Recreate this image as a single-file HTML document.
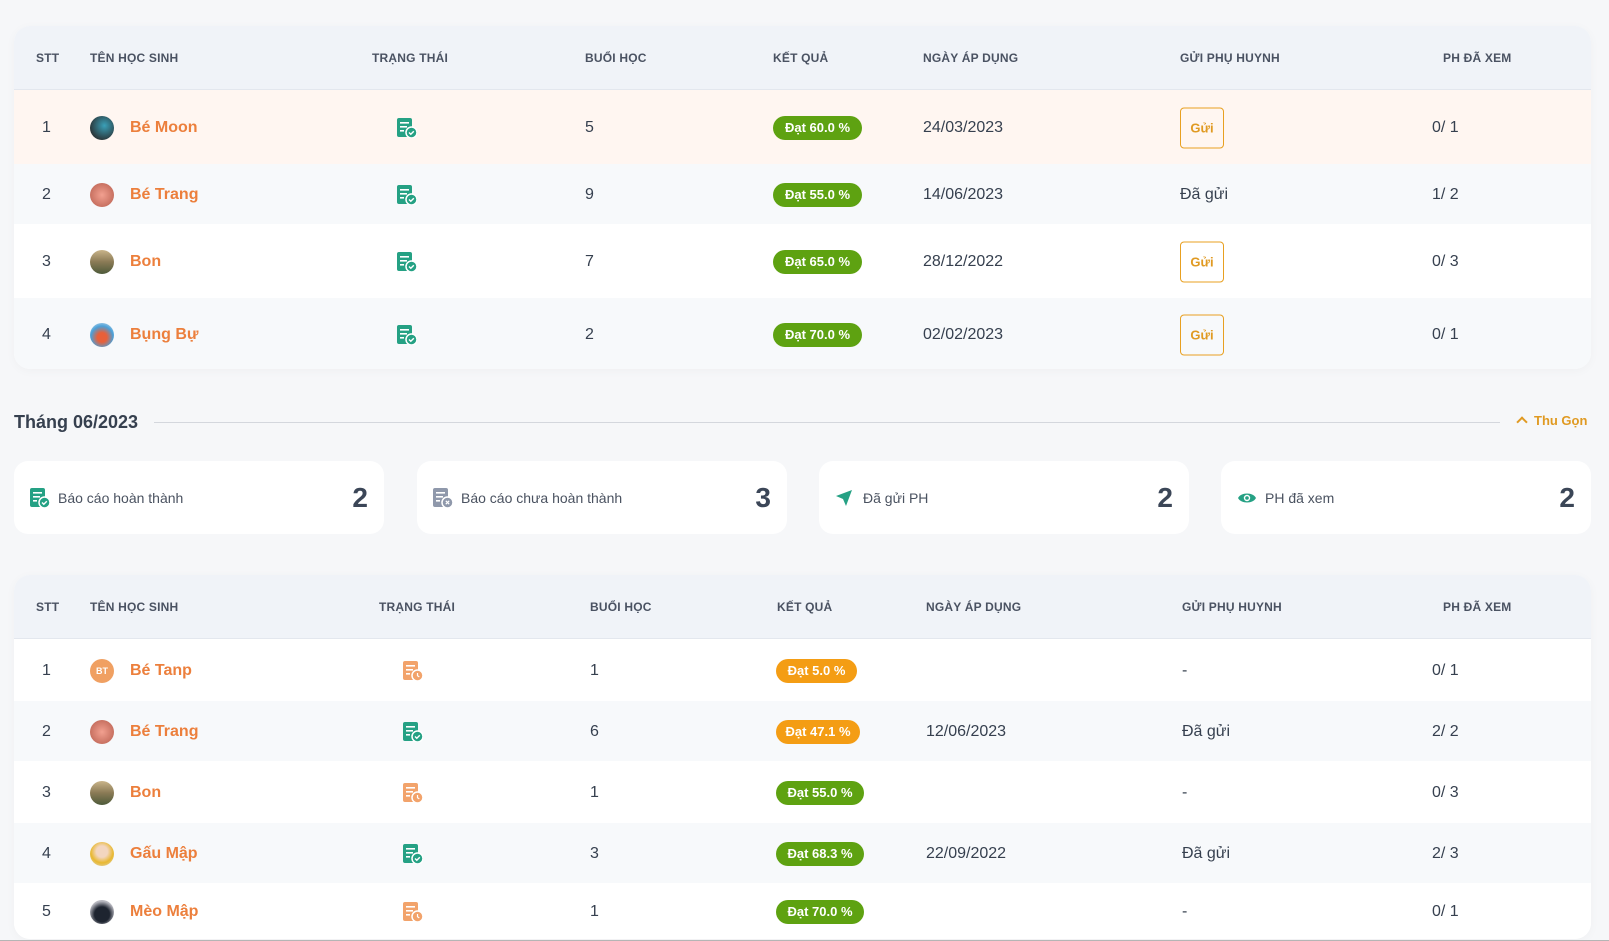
<!DOCTYPE html>
<html><head><meta charset="utf-8">
<style>
*{box-sizing:border-box;margin:0;padding:0}
body{width:1609px;height:941px;overflow:hidden;background:#f6f7f9;font-family:"Liberation Sans",sans-serif;color:#36404f;position:relative}
.card{position:absolute;left:14px;width:1577px;background:#fff;border-radius:16px;overflow:hidden;box-shadow:0 2px 10px rgba(0,0,0,0.03)}
.hd{position:relative;height:64px;background:#f0f3f8;border-bottom:1px solid #e3e7ee}
.hd span{position:absolute;top:50%;transform:translateY(-50%);font-size:12px;font-weight:bold;color:#4a5262;letter-spacing:0.2px}
.r{position:relative}
.r>*{position:absolute;top:calc(50% + 1px);transform:translateY(-50%)}
.r .t{font-size:16px;color:#36404f}
.nm{font-size:16px;font-weight:600;color:#ec7f3c}
.av{width:24px;height:24px;border-radius:50%}
.bd{height:24px;border-radius:12px;color:#fff;font-size:13px;font-weight:bold;line-height:24px;text-align:center}
.g{background:#5ea211}.o{background:#f49d14}
.btn{width:44px;height:41px;border:1px solid #e8a021;border-radius:4px;color:#e09a22;font-size:13px;font-weight:bold;line-height:39px;text-align:center}
.sc{position:absolute;top:461px;height:73px;width:370px;background:#fff;border-radius:14px}
.sc .l{position:absolute;left:44px;top:50%;transform:translateY(-50%);font-size:14px;color:#4a5260}
.sc .n{position:absolute;right:16px;top:50%;transform:translateY(-50%);font-size:28px;font-weight:bold;color:#3b4657}
.sc svg{position:absolute;left:16px;top:50%;transform:translateY(-50%)}
</style></head><body>

<div class="card" style="top:26px;height:343px">
 <div class="hd">
  <span style="left:22px">STT</span><span style="left:76px">TÊN HỌC SINH</span><span style="left:358px">TRẠNG THÁI</span><span style="left:571px">BUỔI HỌC</span><span style="left:759px">KẾT QUẢ</span><span style="left:909px">NGÀY ÁP DỤNG</span><span style="left:1166px">GỬI PHỤ HUYNH</span><span style="left:1429px">PH ĐÃ XEM</span>
 </div>
 <div class="r" style="height:74px;background:#fff6f1">
  <span class="t" style="left:28px">1</span><div class="av" style="left:76px;background:radial-gradient(circle at 60% 40%,#3aa0b8,#2b3a3e 70%)"></div><span class="nm" style="left:116px">Bé Moon</span>
  <svg style="left:383px" width="20" height="20" viewBox="0 0 20 20"><rect x="0" y="0" width="15" height="19" rx="2" fill="#25a184"/><rect x="3" y="4" width="9" height="1.6" fill="#fff"/><rect x="3" y="8" width="7" height="1.6" fill="#fff"/><rect x="3" y="12" width="4" height="1.6" fill="#fff"/><circle cx="14.5" cy="14.5" r="5.5" fill="#25a184" stroke="#fff" stroke-width="1.5"/><path d="M12 14.5l1.8 1.8 3-3" stroke="#fff" stroke-width="1.4" fill="none"/></svg>
  <span class="t" style="left:571px">5</span><div class="bd g" style="left:759px;width:89px">Đạt 60.0 %</div><span class="t" style="left:909px">24/03/2023</span><div class="btn" style="left:1166px">Gửi</div><span class="t" style="left:1418px">0/ 1</span>
 </div>
 <div class="r" style="height:60px;background:#f7f9fb">
  <span class="t" style="left:28px">2</span><div class="av" style="left:76px;background:radial-gradient(circle at 50% 50%,#f2a090,#c26a5a 80%)"></div><span class="nm" style="left:116px">Bé Trang</span>
  <svg style="left:383px" width="20" height="20" viewBox="0 0 20 20"><rect x="0" y="0" width="15" height="19" rx="2" fill="#25a184"/><rect x="3" y="4" width="9" height="1.6" fill="#fff"/><rect x="3" y="8" width="7" height="1.6" fill="#fff"/><rect x="3" y="12" width="4" height="1.6" fill="#fff"/><circle cx="14.5" cy="14.5" r="5.5" fill="#25a184" stroke="#fff" stroke-width="1.5"/><path d="M12 14.5l1.8 1.8 3-3" stroke="#fff" stroke-width="1.4" fill="none"/></svg>
  <span class="t" style="left:571px">9</span><div class="bd g" style="left:759px;width:89px">Đạt 55.0 %</div><span class="t" style="left:909px">14/06/2023</span><span class="t" style="left:1166px">Đã gửi</span><span class="t" style="left:1418px">1/ 2</span>
 </div>
 <div class="r" style="height:74px;background:#fff">
  <span class="t" style="left:28px">3</span><div class="av" style="left:76px;background:linear-gradient(#c9b48a,#8a7a55 50%,#4d5a3a)"></div><span class="nm" style="left:116px">Bon</span>
  <svg style="left:383px" width="20" height="20" viewBox="0 0 20 20"><rect x="0" y="0" width="15" height="19" rx="2" fill="#25a184"/><rect x="3" y="4" width="9" height="1.6" fill="#fff"/><rect x="3" y="8" width="7" height="1.6" fill="#fff"/><rect x="3" y="12" width="4" height="1.6" fill="#fff"/><circle cx="14.5" cy="14.5" r="5.5" fill="#25a184" stroke="#fff" stroke-width="1.5"/><path d="M12 14.5l1.8 1.8 3-3" stroke="#fff" stroke-width="1.4" fill="none"/></svg>
  <span class="t" style="left:571px">7</span><div class="bd g" style="left:759px;width:89px">Đạt 65.0 %</div><span class="t" style="left:909px">28/12/2022</span><div class="btn" style="left:1166px">Gửi</div><span class="t" style="left:1418px">0/ 3</span>
 </div>
 <div class="r" style="height:71px;background:#f7f9fb">
  <span class="t" style="left:28px">4</span><div class="av" style="left:76px;background:radial-gradient(circle at 50% 60%,#e8603a 25%,#4aa0d8 60%,#dfe8f0)"></div><span class="nm" style="left:116px">Bụng Bự</span>
  <svg style="left:383px" width="20" height="20" viewBox="0 0 20 20"><rect x="0" y="0" width="15" height="19" rx="2" fill="#25a184"/><rect x="3" y="4" width="9" height="1.6" fill="#fff"/><rect x="3" y="8" width="7" height="1.6" fill="#fff"/><rect x="3" y="12" width="4" height="1.6" fill="#fff"/><circle cx="14.5" cy="14.5" r="5.5" fill="#25a184" stroke="#fff" stroke-width="1.5"/><path d="M12 14.5l1.8 1.8 3-3" stroke="#fff" stroke-width="1.4" fill="none"/></svg>
  <span class="t" style="left:571px">2</span><div class="bd g" style="left:759px;width:89px">Đạt 70.0 %</div><span class="t" style="left:909px">02/02/2023</span><div class="btn" style="left:1166px">Gửi</div><span class="t" style="left:1418px">0/ 1</span>
 </div>
</div>

<div style="position:absolute;left:14px;top:412px;font-size:18px;font-weight:bold;color:#36404f">Tháng 06/2023</div>
<div style="position:absolute;left:154px;top:422px;width:1346px;height:1px;background:#d4d7dd"></div>
<div style="position:absolute;left:1516px;top:413px;font-size:13px;font-weight:bold;color:#e09a22"><span style="display:inline-block;width:8px;height:8px;border-left:2px solid #e09a22;border-top:2px solid #e09a22;transform:rotate(45deg);margin:0 8px 0 2px;position:relative;top:1px"></span>Thu Gọn</div>

<div class="sc" style="left:14px"><svg width="20" height="20" viewBox="0 0 20 20"><rect x="0" y="0" width="15" height="19" rx="2" fill="#25a184"/><rect x="3" y="4" width="9" height="1.6" fill="#fff"/><rect x="3" y="8" width="7" height="1.6" fill="#fff"/><rect x="3" y="12" width="4" height="1.6" fill="#fff"/><circle cx="14.5" cy="14.5" r="5.5" fill="#25a184" stroke="#fff" stroke-width="1.5"/><path d="M12 14.5l1.8 1.8 3-3" stroke="#fff" stroke-width="1.4" fill="none"/></svg><span class="l">Báo cáo hoàn thành</span><span class="n">2</span></div>
<div class="sc" style="left:417px"><svg width="20" height="20" viewBox="0 0 20 20"><rect x="0" y="0" width="15" height="19" rx="2" fill="#8f98ab"/><rect x="3" y="4" width="9" height="1.6" fill="#fff"/><rect x="3" y="8" width="7" height="1.6" fill="#fff"/><rect x="3" y="12" width="4" height="1.6" fill="#fff"/><circle cx="14.5" cy="14.5" r="5.5" fill="#8f98ab" stroke="#fff" stroke-width="1.5"/><path d="M12.8 12.8l3.4 3.4M16.2 12.8l-3.4 3.4" stroke="#fff" stroke-width="1.2"/></svg><span class="l">Báo cáo chưa hoàn thành</span><span class="n">3</span></div>
<div class="sc" style="left:819px"><svg width="18" height="18" viewBox="0 0 18 18"><path d="M17 1L1 7l7 3 3 7z" fill="#25a184"/></svg><span class="l">Đã gửi PH</span><span class="n">2</span></div>
<div class="sc" style="left:1221px"><svg width="20" height="14" viewBox="0 0 20 14"><path d="M1 7C4 1 16 1 19 7C16 13 4 13 1 7z" fill="#25a184"/><circle cx="10" cy="7" r="3.2" fill="#fff"/><circle cx="10" cy="7" r="1.8" fill="#25a184"/></svg><span class="l">PH đã xem</span><span class="n">2</span></div>

<div class="card" style="top:575px;height:364px">
 <div class="hd">
  <span style="left:22px">STT</span><span style="left:76px">TÊN HỌC SINH</span><span style="left:365px">TRẠNG THÁI</span><span style="left:576px">BUỔI HỌC</span><span style="left:763px">KẾT QUẢ</span><span style="left:912px">NGÀY ÁP DỤNG</span><span style="left:1168px">GỬI PHỤ HUYNH</span><span style="left:1429px">PH ĐÃ XEM</span>
 </div>
 <div class="r" style="height:62px;background:#fff">
  <span class="t" style="left:28px">1</span><div class="av" style="left:76px;background:#f0a062;color:#fff;font-size:9px;font-weight:bold;text-align:center;line-height:24px">BT</div><span class="nm" style="left:116px">Bé Tanp</span>
  <svg style="left:389px" width="20" height="20" viewBox="0 0 20 20"><rect x="0" y="0" width="15" height="19" rx="2" fill="#f2a36b"/><rect x="3" y="4" width="9" height="1.6" fill="#fff"/><rect x="3" y="8" width="7" height="1.6" fill="#fff"/><rect x="3" y="12" width="4" height="1.6" fill="#fff"/><circle cx="14.5" cy="14.5" r="5.5" fill="#f2a36b" stroke="#fff" stroke-width="1.5"/><path d="M14.5 12v2.7l1.8 1.2" stroke="#fff" stroke-width="1.2" fill="none"/></svg>
  <span class="t" style="left:576px">1</span><div class="bd o" style="left:762px;width:81px">Đạt 5.0 %</div><span class="t" style="left:1168px">-</span><span class="t" style="left:1418px">0/ 1</span>
 </div>
 <div class="r" style="height:60px;background:#f7f9fb">
  <span class="t" style="left:28px">2</span><div class="av" style="left:76px;background:radial-gradient(circle at 50% 50%,#f2a090,#c26a5a 80%)"></div><span class="nm" style="left:116px">Bé Trang</span>
  <svg style="left:389px" width="20" height="20" viewBox="0 0 20 20"><rect x="0" y="0" width="15" height="19" rx="2" fill="#25a184"/><rect x="3" y="4" width="9" height="1.6" fill="#fff"/><rect x="3" y="8" width="7" height="1.6" fill="#fff"/><rect x="3" y="12" width="4" height="1.6" fill="#fff"/><circle cx="14.5" cy="14.5" r="5.5" fill="#25a184" stroke="#fff" stroke-width="1.5"/><path d="M12 14.5l1.8 1.8 3-3" stroke="#fff" stroke-width="1.4" fill="none"/></svg>
  <span class="t" style="left:576px">6</span><div class="bd o" style="left:762px;width:84px">Đạt 47.1 %</div><span class="t" style="left:912px">12/06/2023</span><span class="t" style="left:1168px">Đã gửi</span><span class="t" style="left:1418px">2/ 2</span>
 </div>
 <div class="r" style="height:62px;background:#fff">
  <span class="t" style="left:28px">3</span><div class="av" style="left:76px;background:linear-gradient(#c9b48a,#8a7a55 50%,#4d5a3a)"></div><span class="nm" style="left:116px">Bon</span>
  <svg style="left:389px" width="20" height="20" viewBox="0 0 20 20"><rect x="0" y="0" width="15" height="19" rx="2" fill="#f2a36b"/><rect x="3" y="4" width="9" height="1.6" fill="#fff"/><rect x="3" y="8" width="7" height="1.6" fill="#fff"/><rect x="3" y="12" width="4" height="1.6" fill="#fff"/><circle cx="14.5" cy="14.5" r="5.5" fill="#f2a36b" stroke="#fff" stroke-width="1.5"/><path d="M14.5 12v2.7l1.8 1.2" stroke="#fff" stroke-width="1.2" fill="none"/></svg>
  <span class="t" style="left:576px">1</span><div class="bd g" style="left:762px;width:88px">Đạt 55.0 %</div><span class="t" style="left:1168px">-</span><span class="t" style="left:1418px">0/ 3</span>
 </div>
 <div class="r" style="height:60px;background:#f7f9fb">
  <span class="t" style="left:28px">4</span><div class="av" style="left:76px;background:radial-gradient(circle at 50% 40%,#f3d6c0 30%,#e8b830 60%,#ddd)"></div><span class="nm" style="left:116px">Gấu Mập</span>
  <svg style="left:389px" width="20" height="20" viewBox="0 0 20 20"><rect x="0" y="0" width="15" height="19" rx="2" fill="#25a184"/><rect x="3" y="4" width="9" height="1.6" fill="#fff"/><rect x="3" y="8" width="7" height="1.6" fill="#fff"/><rect x="3" y="12" width="4" height="1.6" fill="#fff"/><circle cx="14.5" cy="14.5" r="5.5" fill="#25a184" stroke="#fff" stroke-width="1.5"/><path d="M12 14.5l1.8 1.8 3-3" stroke="#fff" stroke-width="1.4" fill="none"/></svg>
  <span class="t" style="left:576px">3</span><div class="bd g" style="left:762px;width:88px">Đạt 68.3 %</div><span class="t" style="left:912px">22/09/2022</span><span class="t" style="left:1168px">Đã gửi</span><span class="t" style="left:1418px">2/ 3</span>
 </div>
 <div class="r" style="height:56px;background:#fff">
  <span class="t" style="left:28px">5</span><div class="av" style="left:76px;background:radial-gradient(circle at 50% 60%,#1e2430 40%,#b8b8c0 70%)"></div><span class="nm" style="left:116px">Mèo Mập</span>
  <svg style="left:389px" width="20" height="20" viewBox="0 0 20 20"><rect x="0" y="0" width="15" height="19" rx="2" fill="#f2a36b"/><rect x="3" y="4" width="9" height="1.6" fill="#fff"/><rect x="3" y="8" width="7" height="1.6" fill="#fff"/><rect x="3" y="12" width="4" height="1.6" fill="#fff"/><circle cx="14.5" cy="14.5" r="5.5" fill="#f2a36b" stroke="#fff" stroke-width="1.5"/><path d="M14.5 12v2.7l1.8 1.2" stroke="#fff" stroke-width="1.2" fill="none"/></svg>
  <span class="t" style="left:576px">1</span><div class="bd g" style="left:762px;width:88px">Đạt 70.0 %</div><span class="t" style="left:1168px">-</span><span class="t" style="left:1418px">0/ 1</span>
 </div>
</div>
<div style="position:absolute;left:0;top:940px;width:1609px;height:1px;background:#b5b5b5"></div>
</body></html>
